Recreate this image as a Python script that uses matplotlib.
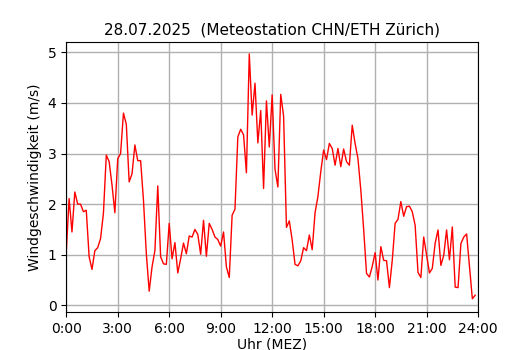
import numpy as np
import matplotlib
matplotlib.use("Agg")
from matplotlib import pyplot as plt

# Windgeschwindigkeit (m/s), 10-Minuten-Werte ab 0:00
wind = [1.05, 2.11, 1.45, 2.24, 2.0, 2.0, 1.85, 1.88, 0.96, 0.71,
        1.08, 1.14, 1.32, 1.82, 2.97, 2.84, 2.38, 1.83, 2.9, 3.0,
        3.8, 3.58, 2.44, 2.6, 3.17, 2.86, 2.86, 2.08, 1.02, 0.28,
        0.76, 1.08, 2.36, 0.96, 0.82, 0.81, 1.62, 0.92, 1.24, 0.64,
        0.92, 1.23, 1.02, 1.37, 1.35, 1.5, 1.4, 1.01, 1.68, 0.97,
        1.62, 1.5, 1.35, 1.3, 1.17, 1.45, 0.76, 0.55, 1.78, 1.9,
        3.33, 3.48, 3.37, 2.62, 4.97, 3.76, 4.39, 3.21, 3.85, 2.31,
        4.04, 3.13, 4.16, 2.69, 2.34, 4.17, 3.74, 1.54, 1.67, 1.29,
        0.81, 0.78, 0.88, 1.14, 1.08, 1.39, 1.1, 1.83, 2.15, 2.64,
        3.07, 2.88, 3.2, 3.1, 2.77, 3.1, 2.74, 3.09, 2.84, 2.77,
        3.56, 3.2, 2.9, 2.28, 1.5, 0.63, 0.56, 0.77, 1.04, 0.5,
        1.16, 0.89, 0.88, 0.35, 0.89, 1.62, 1.7, 2.05, 1.76, 1.95,
        1.96, 1.85, 1.58, 0.65, 0.55, 1.35, 0.99, 0.64, 0.73, 1.23,
        1.49, 0.79, 0.99, 1.49, 0.9, 1.55, 0.36, 0.35, 1.22, 1.35,
        1.41, 0.76, 0.13, 0.2]

hours = np.arange(len(wind)) / 6.0
tick_hours = [0, 3, 6, 9, 12, 15, 18, 21, 24]
tick_labels = ["%d:00" % h for h in tick_hours]

fig = plt.figure(figsize=(5.3, 3.5), dpi=100)
ax = fig.add_axes([0.125, 0.1077, 0.777, 0.7713])

ax.plot(hours, wind, color="red", linewidth=1)

ax.set_xlim(0, 24)
ax.set_ylim(-0.138, 5.198)
ax.set_xticks(tick_hours)
ax.set_xticklabels(tick_labels)
ax.set_yticks([0, 1, 2, 3, 4, 5])
ax.set_xlabel("Uhr (MEZ)", labelpad=1)
ax.set_ylabel("Windgeschwindigkeit (m/s)")
ax.set_title("28.07.2025  (Meteostation CHN/ETH Zürich)", fontsize=11)
ax.grid(True, color="#b0b0b0", linewidth=1)

fig.savefig("out.png", dpi=100)
